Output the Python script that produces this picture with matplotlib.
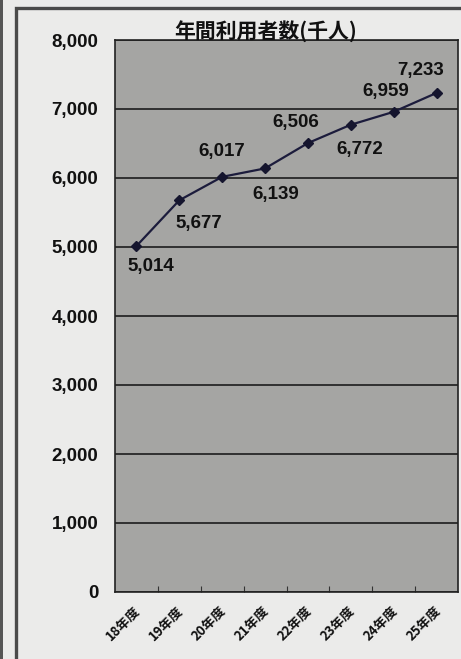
import matplotlib
matplotlib.use("Agg")
import matplotlib.pyplot as plt
from matplotlib.patches import Rectangle
import matplotlib.transforms as mtransforms

plt.rcParams['font.family'] = ['Noto Sans CJK JP', 'DejaVu Sans']

# data
years = ["18年度", "19年度", "20年度", "21年度", "22年度", "23年度", "24年度", "25年度"]
users = [5014, 5677, 6017, 6139, 6506, 6772, 6959, 7233]
yticks = [0, 1000, 2000, 3000, 4000, 5000, 6000, 7000, 8000]

# where each value label sits relative to its point (pixels)
label_off = [(14, -20), (20, -23), (0, 25), (11, -26),
             (-12, 21), (9, -25), (-8, 20), (-16, 22)]

fig = plt.figure(figsize=(4.61, 6.59), dpi=100)
fig.patch.set_facecolor("#ebebea")

# outer frame (runs off the right and bottom) and the edge of the neighbouring panel
fig.add_artist(Rectangle((16/461, -20/659), 470/461, 671/659, transform=fig.transFigure,
                         fill=False, edgecolor="#4a4a4a", linewidth=2.4))
fig.add_artist(Rectangle((0, 0), 3/461, 1, transform=fig.transFigure,
                         facecolor="#555555", edgecolor="none"))

ax = fig.add_axes([115/461, 67/659, 343/461, 552/659])
ax.set_facecolor("#a5a5a3")

x = list(range(len(years)))
ax.plot(x, users, color="#1c1c3c", linewidth=1.6, marker="D", markersize=5,
        markerfacecolor="#15152e", markeredgecolor="#15152e", zorder=3)

for xi, v, (dx, dy) in zip(x, users, label_off):
    ax.annotate(f"{v:,}", (xi, v), xytext=(dx, dy), textcoords="offset pixels",
                ha="center", va="center", fontsize=13.5, fontweight="bold",
                color="#111111", family="Liberation Sans")

ax.set_xlim(-0.5, len(years) - 0.5)
ax.set_ylim(0, 8000)
ax.set_yticks(yticks)
ax.set_yticklabels([f"{t:,}" for t in yticks], fontsize=13.5, fontweight="bold",
                   family="Liberation Sans", color="#111111")
ax.yaxis.grid(True, color="#111111", linewidth=1.1)
ax.set_axisbelow(True)
ax.tick_params(axis="y", length=0, pad=12)

ax.set_xticks([i + 0.5 for i in range(len(years) - 1)])
ax.set_xticklabels([])
ax.tick_params(axis="x", direction="in", length=4, color="#333333")
ax.set_xticks(x, minor=True)
ax.set_xticklabels(years, minor=True, rotation=45, ha="right", va="center",
                   rotation_mode="anchor", fontsize=9.5, fontweight="bold", color="#111111")
ax.tick_params(axis="x", which="minor", length=0, pad=12)
shift = mtransforms.ScaledTranslation(2/100, 0, fig.dpi_scale_trans)
for lab in ax.get_xticklabels(minor=True):
    lab.set_transform(lab.get_transform() + shift)

for side in ["left", "bottom", "top", "right"]:
    ax.spines[side].set_color("#222222")
    ax.spines[side].set_linewidth(1.2)

fig.text(266/461, 1 - 32/659, "年間利用者数(千人)", ha="center", va="center",
         fontsize=15, fontweight="bold", color="#111111")

fig.savefig("out.png", dpi=100, facecolor=fig.get_facecolor())
